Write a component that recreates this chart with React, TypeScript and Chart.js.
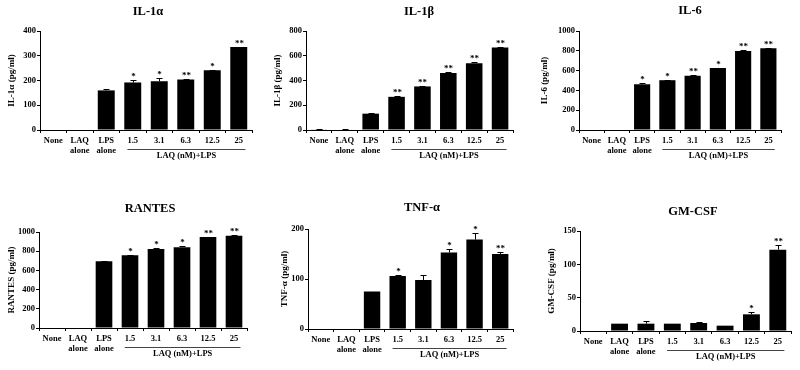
import React, { useEffect, useRef } from "react";
import { Chart, registerables } from "chart.js";
Chart.register(...registerables);

const FONT = '"Liberation Serif", "Times New Roman", serif';

const categories: (string | string[])[] = ["None", ["LAQ", "alone"], ["LPS", "alone"], "1.5", "3.1", "6.3", "12.5", "25"];
const groupLabel = "LAQ (nM)+LPS";

const il1aValues = [0, 0, 160, 192, 197, 204, 241, 335];
const il1aErrors = [0, 0, 4, 12, 15, 3, 2, 2];
const il1aSig = ["", "", "", "*", "*", "**", "*", "**"];

const il1bValues = [5, 4, 132, 268, 352, 461, 540, 667];
const il1bErrors = [2, 2, 5, 10, 6, 6, 10, 5];
const il1bSig = ["", "", "", "**", "**", "**", "**", "**"];

const il6Values = [0, 0, 462, 503, 547, 627, 797, 827];
const il6Errors = [0, 0, 10, 6, 4, 4, 12, 4];
const il6Sig = ["", "", "*", "*", "**", "*", "**", "**"];

const rantesValues = [0, 0, 695, 757, 824, 842, 948, 962];
const rantesErrors = [0, 0, 8, 5, 12, 14, 4, 10];
const rantesSig = ["", "", "", "*", "*", "*", "**", "**"];

const tnfValues = [1, 0, 75, 106, 98, 153, 179, 150];
const tnfErrors = [0, 0, 0, 2, 11, 7, 13, 5];
const tnfSig = ["", "", "", "*", "", "*", "*", "**"];

const gmcsfValues = [0, 11, 11, 11, 12, 8, 25, 122];
const gmcsfErrors = [0, 0, 4, 0, 2, 0, 4, 7];
const gmcsfSig = ["", "", "", "", "", "", "*", "**"];

type Panel = {
  title: string;
  yTitle: string;
  values: number[];
  errors: number[];
  sig: string[];
  max: number;
  step: number;
  rect: [number, number, number, number];
  area: [number, number, number, number];
  titlePos: [number, number];
  yTitleX: number;
};

const panels: Panel[] = [
  { title: "IL-1α", yTitle: "IL-1α (pg/ml)", values: il1aValues, errors: il1aErrors, sig: il1aSig, max: 400, step: 100,
    rect: [0, 0, 265, 185], area: [40, 31, 252, 130], titlePos: [148, 12], yTitleX: 12 },
  { title: "IL-1β", yTitle: "IL-1β (pg/ml)", values: il1bValues, errors: il1bErrors, sig: il1bSig, max: 800, step: 200,
    rect: [265, 0, 265, 185], area: [41, 31, 248, 130], titlePos: [154, 12], yTitleX: 13 },
  { title: "IL-6", yTitle: "IL-6 (pg/ml)", values: il6Values, errors: il6Errors, sig: il6Sig, max: 1000, step: 200,
    rect: [530, 0, 270, 185], area: [49, 31, 251, 130], titlePos: [160, 11], yTitleX: 15 },
  { title: "RANTES", yTitle: "RANTES (pg/ml)", values: rantesValues, errors: rantesErrors, sig: rantesSig, max: 1000, step: 200,
    rect: [0, 185, 265, 185], area: [39, 47, 247, 143], titlePos: [150, 24], yTitleX: 12 },
  { title: "TNF-α", yTitle: "TNF-α (pg/ml)", values: tnfValues, errors: tnfErrors, sig: tnfSig, max: 200, step: 100,
    rect: [265, 185, 265, 185], area: [43, 44, 248, 144], titlePos: [157, 23], yTitleX: 20 },
  { title: "GM-CSF", yTitle: "GM-CSF (pg/ml)", values: gmcsfValues, errors: gmcsfErrors, sig: gmcsfSig, max: 150, step: 50,
    rect: [530, 185, 270, 185], area: [50, 46, 261, 146], titlePos: [163, 27], yTitleX: 22 },
];

function BarPanel({ panel }: { panel: Panel }) {
  const ref = useRef<HTMLCanvasElement>(null);
  useEffect(() => {
    const [, , cw, ch] = panel.rect;
    const [al, at, ar, ab] = panel.area;
    const deco = {
      id: "deco",
      afterDatasetsDraw(chart: any) {
        const ctx = chart.ctx;
        const y = chart.scales.y;
        const meta = chart.getDatasetMeta(0);
        ctx.save();
        ctx.strokeStyle = "#000";
        ctx.fillStyle = "#000";
        ctx.lineWidth = 1;
        panel.values.forEach((v, i) => {
          const x = Math.round(meta.data[i].x) + 0.5;
          const e = panel.errors[i];
          const yTop = y.getPixelForValue(v);
          const yErr = y.getPixelForValue(v + e);
          if (e > 0) {
            ctx.beginPath();
            ctx.moveTo(x, yTop);
            ctx.lineTo(x, Math.round(yErr) + 0.5);
            ctx.moveTo(x - 3, Math.round(yErr) + 0.5);
            ctx.lineTo(x + 3, Math.round(yErr) + 0.5);
            ctx.stroke();
          }
          const s = panel.sig[i];
          if (s) {
            ctx.font = `bold 9px ${FONT}`;
            ctx.textAlign = "center";
            ctx.textBaseline = "alphabetic";
            ctx.fillText(s, x, yErr - 1);
          }
        });
        ctx.restore();
      },
      afterDraw(chart: any) {
        const ctx = chart.ctx;
        const xs = chart.scales.x;
        const area = chart.chartArea;
        ctx.save();
        ctx.fillStyle = "#000";
        ctx.font = `bold 12.5px ${FONT}`;
        ctx.textAlign = "center";
        ctx.textBaseline = "middle";
        ctx.fillText(panel.title, panel.titlePos[0], panel.titlePos[1]);
        ctx.save();
        ctx.translate(panel.yTitleX, (area.top + area.bottom) / 2);
        ctx.rotate(-Math.PI / 2);
        ctx.font = `bold 9px ${FONT}`;
        ctx.fillText(panel.yTitle, 0, 0);
        ctx.restore();
        const step = xs.getPixelForValue(1) - xs.getPixelForValue(0);
        const x1 = xs.getPixelForValue(3) - 0.2 * step;
        const x2 = xs.getPixelForValue(7) + 0.25 * step;
        const yl = Math.round(area.bottom + 19) + 0.5;
        ctx.strokeStyle = "#444";
        ctx.lineWidth = 1;
        ctx.beginPath();
        ctx.moveTo(x1, yl);
        ctx.lineTo(x2, yl);
        ctx.stroke();
        ctx.font = `bold 8.5px ${FONT}`;
        ctx.fillText(groupLabel, (x1 + x2) / 2, area.bottom + 25.5);
        ctx.restore();
      },
    };
    const chart = new Chart(ref.current as HTMLCanvasElement, {
      type: "bar",
      data: {
        labels: categories,
        datasets: [
          {
            data: panel.values,
            backgroundColor: "#000",
            borderWidth: 0,
            barPercentage: 0.64,
            categoryPercentage: 1,
          },
        ],
      },
      options: {
        responsive: false,
        animation: false,
        layout: { padding: { left: 0, top: at, right: cw - ar, bottom: 0 } },
        plugins: { legend: { display: false }, tooltip: { enabled: false }, title: { display: false } },
        scales: {
          x: {
            afterFit: (s: any) => { s.height = ch - ab; },
            grid: { drawOnChartArea: false, drawTicks: true, tickLength: 3, color: "#000", offset: true },
            border: { color: "#000", width: 1 },
            ticks: {
              color: "#000",
              font: { family: FONT, size: 8.5, weight: "bold", lineHeight: 1.25 },
              padding: 2,
              maxRotation: 0,
              autoSkip: false,
            },
          },
          y: {
            min: 0,
            max: panel.max,
            afterFit: (s: any) => { s.width = al; },
            grid: { drawOnChartArea: false, drawTicks: true, tickLength: 3, color: "#000" },
            border: { color: "#000", width: 1 },
            ticks: {
              stepSize: panel.step,
              color: "#000",
              font: { family: FONT, size: 8.5, weight: "bold" },
              padding: 1,
              callback: (v: any) => String(v),
            },
          },
        },
      } as any,
      plugins: [deco],
    });
    return () => chart.destroy();
  }, [panel]);
  const [cl, ct, cw, ch] = panel.rect;
  return (
    <canvas
      ref={ref}
      width={cw}
      height={ch}
      style={{ position: "absolute", left: cl, top: ct, width: cw, height: ch }}
    />
  );
}

export default function App() {
  return (
    <div style={{ position: "absolute", left: 0, top: 0, width: 800, height: 370, background: "#fff" }}>
      {panels.map((p) => (
        <BarPanel key={p.title} panel={p} />
      ))}
    </div>
  );
}
